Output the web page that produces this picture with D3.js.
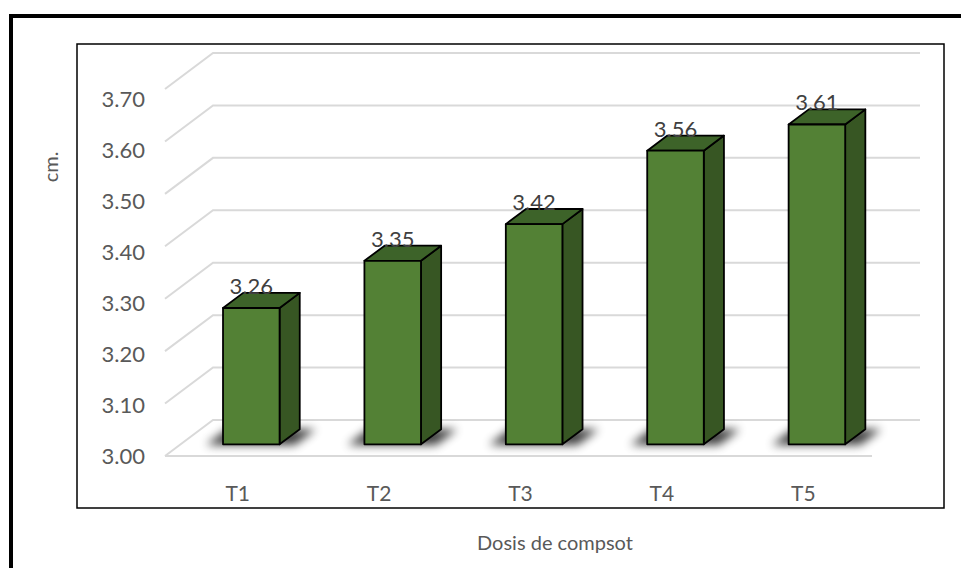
<!DOCTYPE html>
<html>
<head>
<meta charset="utf-8">
<script src="https://cdn.jsdelivr.net/npm/d3@7/dist/d3.min.js"></script>
<style>
  html, body { margin: 0; padding: 0; background: #fff; }
  #chart { width: 961px; height: 568px; }
  text { font-family: Lato, "Open Sans", sans-serif; }
</style>
</head>
<body>
<div id="chart"></div>
<script>
// data
var categories = ['T1', 'T2', 'T3', 'T4', 'T5'];
var values = [3.26, 3.35, 3.42, 3.56, 3.61];
var yTicks = [3.00, 3.10, 3.20, 3.30, 3.40, 3.50, 3.60, 3.70];
var xTitle = 'Dosis de compsot';
var yTitle = 'cm.';

var Bars3d = function(container){
   var p = this;
   var _svg, _x, _y, _yLab;
   var DX = 48, DY = -36;        // depth vector of the floor
   var D0 = 0.325, D1 = 0.745;   // bar depth slice

   function _pt(x, v, d){
       return [x + d*DX, _y(v) + d*DY];
   }

   function _constructor(){
       _svg = d3.select(container).append('svg').attr('width', 961).attr('height', 568);

       var defs = _svg.append('defs');
       defs.append('filter').attr('id', 'blur').attr('x', '-50%').attr('y', '-100%')
           .attr('width', '200%').attr('height', '300%')
           .append('feGaussianBlur').attr('stdDeviation', 5);

       // frames
       _svg.append('rect').attr('x', 11).attr('y', 16).attr('width', 1000).attr('height', 600)
           .attr('fill', 'none').attr('stroke', '#000').attr('stroke-width', 4);
       _svg.append('rect').attr('x', 77).attr('y', 44).attr('width', 867).attr('height', 464)
           .attr('fill', 'none').attr('stroke', '#000').attr('stroke-width', 1.5);

       _x = d3.scaleBand().domain(categories).range([165, 872]).padding(0);
       _y = d3.scaleLinear().domain([3.0, 3.7]).range([456, 89]);
       _yLab = d3.scaleLinear().domain([3.0, 3.7]).range([455, 98]);
   }

   p.draw = function(){
       var grid = _svg.append('g').attr('stroke', '#d9d9d9').attr('stroke-width', 2).attr('fill', 'none');
       var x0 = _x.range()[0], x1 = _x.range()[1];
       yTicks.forEach(function(t){
           var a = _pt(x0, t, 0), b = _pt(x0, t, 1), c = _pt(x1, t, 1);
           grid.append('polyline').attr('points', [a, b, c].map(String).join(' '));
       });
       // floor front edge
       var f0 = _pt(x0, 3.0, 0), f1 = _pt(x1, 3.0, 0);
       grid.append('line').attr('x1', f0[0]).attr('y1', f0[1]).attr('x2', f1[0]).attr('y2', f1[1]);

       // tick labels
       _svg.append('g').selectAll('text').data(yTicks).enter().append('text')
           .attr('x', 145).attr('y', function(d){ return _yLab(d); })
           .attr('text-anchor', 'end').attr('dominant-baseline', 'central')
           .attr('font-size', 22).attr('fill', '#595959')
           .text(function(d){ return d.toFixed(2); });

       _svg.append('g').selectAll('text').data(categories).enter().append('text')
           .attr('x', function(d){ return _x(d) + _x.bandwidth()/2 + 2; }).attr('y', 492)
           .attr('text-anchor', 'middle').attr('dominant-baseline', 'central')
           .attr('font-size', 21).attr('fill', '#595959')
           .text(function(d){ return d; });

       var rows = categories.map(function(c, i){ return {cat: c, v: values[i]}; });
       var hw = _x.bandwidth()*0.2;

       // soft shadows on the floor
       _svg.append('g').selectAll('polygon').data(rows).enter().append('polygon')
           .attr('points', function(d){
               var cx = _x(d.cat) + _x.bandwidth()/2, e = 16;
               return [_pt(cx-hw-e, 3.0, D0-0.02), _pt(cx+hw+e, 3.0, D0-0.02),
                       _pt(cx+hw+e, 3.0, D1), _pt(cx-hw-e, 3.0, D1)].map(String).join(' ');
           })
           .attr('fill', '#000').attr('opacity', 0.75).attr('filter', 'url(#blur)');

       var bars = _svg.append('g').selectAll('g').data(rows).enter().append('g')
           .attr('stroke', '#000').attr('stroke-width', 1.8).attr('stroke-linejoin', 'round');

       bars.append('polygon').attr('fill', '#375623').attr('points', function(d){
           var cx = _x(d.cat) + _x.bandwidth()/2;
           return [_pt(cx+hw, 3.0, D0), _pt(cx+hw, 3.0, D1), _pt(cx+hw, d.v, D1), _pt(cx+hw, d.v, D0)].map(String).join(' ');
       });
       bars.append('polygon').attr('fill', '#3d6329').attr('points', function(d){
           var cx = _x(d.cat) + _x.bandwidth()/2;
           return [_pt(cx-hw, d.v, D0), _pt(cx+hw, d.v, D0), _pt(cx+hw, d.v, D1), _pt(cx-hw, d.v, D1)].map(String).join(' ');
       });
       bars.append('polygon').attr('fill', '#538135').attr('points', function(d){
           var cx = _x(d.cat) + _x.bandwidth()/2;
           return [_pt(cx-hw, 3.0, D0), _pt(cx+hw, 3.0, D0), _pt(cx+hw, d.v, D0), _pt(cx-hw, d.v, D0)].map(String).join(' ');
       });

       // value labels
       _svg.append('g').selectAll('text').data(rows).enter().append('text')
           .attr('x', function(d){ return _pt(_x(d.cat) + _x.bandwidth()/2, d.v, D0)[0]; })
           .attr('y', function(d){ return _pt(0, d.v, D0)[1] - 14; })
           .attr('text-anchor', 'middle').attr('font-size', 22).attr('fill', '#404040')
           .text(function(d){ return d.v.toFixed(2); });

       // titles
       _svg.append('text').attr('transform', 'translate(50,167) rotate(-90)')
           .attr('text-anchor', 'middle').attr('dominant-baseline', 'central')
           .attr('font-size', 20).attr('fill', '#595959').text(yTitle);
       _svg.append('text').attr('x', 555).attr('y', 542)
           .attr('text-anchor', 'middle').attr('dominant-baseline', 'central')
           .attr('font-size', 20).attr('fill', '#595959').text(xTitle);
   };

   _constructor();
};

var chart = new Bars3d(document.getElementById('chart'));
chart.draw();
</script>
</body>
</html>
